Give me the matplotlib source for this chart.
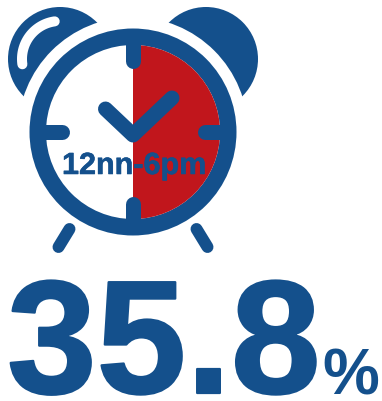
import numpy as np
import matplotlib
matplotlib.use('Agg')
import matplotlib.pyplot as plt
import matplotlib.patheffects as pe
from matplotlib.patches import Circle, Wedge

# values shown on the chart
share = 35.8
period_label = '12nn-6pm'
start_hour = 0   # 12 noon
end_hour = 6     # 6 pm

blue = '#14508C'
red = '#C1161C'

plt.rcParams['font.family'] = ['Liberation Sans', 'DejaVu Sans']

fig = plt.figure(figsize=(3.82, 4.02), dpi=100)
ax = fig.add_axes([0, 0, 1, 1])
# axes are in image pixels, y pointing down
ax.set_xlim(0, 382)
ax.set_ylim(402, 0)
ax.axis('off')

cx, cy = 133, 133

# bells, cut by a white ring round the clock
ax.add_patch(Circle((60, 60), 52, fc=blue, ec='none', zorder=1))
ax.add_patch(Circle((206, 60), 52, fc=blue, ec='none', zorder=1))
ax.add_patch(Circle((cx, cy), 115, fc='white', ec='none', zorder=2))

# highlight on the left bell
t = np.radians(np.linspace(172, 262, 40))
ax.plot(60 + 38 * np.cos(t), 60 + 38 * np.sin(t), color='white', lw=7.2,
        solid_capstyle='round', zorder=3)

# legs
ax.plot([69.5, 58.5], [230, 248], color=blue, lw=8.6, solid_capstyle='round', zorder=3)
ax.plot([196.5, 207.5], [230, 248], color=blue, lw=8.6, solid_capstyle='round', zorder=3)

# clock face
ax.add_patch(Circle((cx, cy), 103.5, fc=blue, ec='none', zorder=4))
ax.add_patch(Circle((cx, cy), 87, fc='white', ec='none', zorder=5))
# with y pointing down the angles run clockwise
ax.add_patch(Wedge((cx, cy), 87, start_hour * 30 - 90, end_hour * 30 - 90,
                   fc=red, ec='none', zorder=6))

# hour marks
for x0, y0, x1, y1 in [(cx, 40, cx, 61.5), (cx, 226, cx, 204.5),
                       (40, cy, 61.5, cy), (226, cy, 204.5, cy)]:
    ax.plot([x0, x1], [y0, y1], color=blue, lw=10.8, solid_capstyle='round', zorder=7)

# hands
ax.plot([105.5, cx, 172], [110, 136, 99], color=blue, lw=10.8,
        solid_capstyle='round', solid_joinstyle='round', zorder=7)

# the reference font is a little heavier than Liberation Sans Bold
heavy = [pe.withStroke(linewidth=1.6, foreground=blue)]
ax.text(62, 175, period_label, color=blue, fontsize=22, fontweight='bold',
        ha='left', va='baseline', zorder=8,
        path_effects=[pe.withStroke(linewidth=0.4, foreground=blue)])

ax.text(7, 394, f'{share:.1f}', color=blue, fontsize=116, fontweight='bold',
        ha='left', va='baseline', zorder=8, path_effects=heavy)
ax.text(322, 395, '%', color=blue, fontsize=46, fontweight='bold',
        ha='left', va='baseline', zorder=8)

fig.savefig('out.png', dpi=100)
